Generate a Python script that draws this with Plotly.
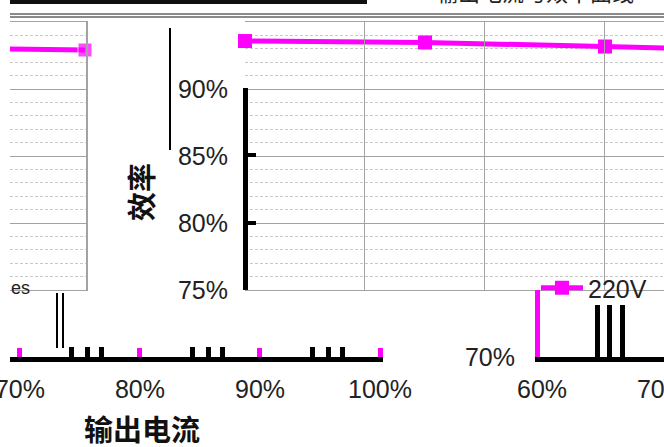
import plotly.graph_objects as go

W, H = 664, 447

# ---------------- data ----------------
main_current = [60, 75, 90, 100]
main_eff = [93.58, 93.47, 93.17, 92.95]
left_current = [30, 40]
left_eff = [92.98, 92.91]
series_name = "220V"

eff_ticks = [75, 80, 85, 90]
eff_tick_labels = ["75%", "80%", "85%", "90%"]

cur_ticks = [70, 80, 90, 100]
cur_tick_labels = ["70%", "80%", "90%", "100%"]
cur_minor_ticks = [74.3, 75.6, 76.8, 84.4, 85.7, 86.9, 94.4, 95.7, 96.9]

pair_x = [73.1, 73.6]
pair_top = [0.955, 0.955]
pair_base = [0.134, 0.134]

inset_ticks = [60, 70]
inset_tick_labels = ["60%", "70%"]
inset_low_ticks = [70]
inset_low_labels = ["70%"]
inset_bar_x = [64.6, 65.6, 66.7]
inset_bar_h = [3.9, 3.9, 3.9]


def fx(px):
    return px / W


def fy(py):
    return 1 - py / H


MAG = "#ff00ff"
GRID = "#a3a3a3"
MINOR = "#c8c8c8"
TXT = "#222222"
tickfont = dict(family="Liberation Sans, Arial", size=25, color=TXT)

fig = go.Figure()

# main series
fig.add_trace(go.Scatter(
    x=main_current, y=main_eff, name=series_name, mode="lines+markers",
    line=dict(color=MAG, width=5), marker=dict(symbol="square", size=14, color=MAG),
    cliponaxis=False, xaxis="x", yaxis="y", showlegend=True))
# left fragment of series
fig.add_trace(go.Scatter(
    x=left_current, y=left_eff, mode="lines+markers",
    line=dict(color=MAG, width=5),
    marker=dict(symbol="square", size=[0, 14], color=MAG),
    cliponaxis=False, xaxis="x2", yaxis="y2", showlegend=False))
# thin double bars in bottom strip
fig.add_trace(go.Bar(
    x=pair_x, y=[t - b for t, b in zip(pair_top, pair_base)], base=pair_base,
    width=0.17, marker=dict(color="black", line=dict(width=0)),
    xaxis="x3", yaxis="y3", showlegend=False))
# inset bars
fig.add_trace(go.Bar(
    x=inset_bar_x, y=inset_bar_h, base=70, width=0.42,
    marker=dict(color="black", line=dict(width=0)),
    xaxis="x4", yaxis="y4", showlegend=False))
# empty traces to register decorative axes
for xa, ya in [("x", "y5"), ("x", "y6"), ("x7", "y6"), ("x8", "y6"), ("x9", "y6")]:
    fig.add_trace(go.Scatter(x=[], y=[], xaxis=xa, yaxis=ya, showlegend=False,
                             hoverinfo="skip"))

common = dict(zeroline=False, automargin=False)

fig.update_layout(
    width=W, height=H,
    margin=dict(l=0, r=0, t=0, b=0, pad=0, autoexpand=False),
    paper_bgcolor="white", plot_bgcolor="rgba(0,0,0,0)",
    bargap=0,
    showlegend=True,
    legend=dict(x=fx(536), y=fy(288), xanchor="left", yanchor="middle",
                bgcolor="rgba(0,0,0,0)", font=tickfont, itemwidth=42,
                borderwidth=0, tracegroupgap=0),
    xaxis=dict(domain=[fx(245), 1], range=[60, 94.92], tick0=60, dtick=10,
               showgrid=True, gridcolor=GRID, gridwidth=1.3, showticklabels=False,
               ticks="", showline=True, linecolor=GRID, linewidth=1.3, mirror=True,
               anchor="y", **common),
    yaxis=dict(domain=[fy(290), fy(22)], range=[75, 95], tickmode="array",
               tickvals=eff_ticks, ticktext=eff_tick_labels, tickfont=tickfont,
               ticklabelstandoff=16, ticklabeloverflow="allow", ticks="",
               showline=False, showgrid=True, gridcolor=GRID, gridwidth=1.3,
               minor=dict(tickmode="linear", tick0=75, dtick=1, showgrid=True,
                          gridcolor=MINOR, gridwidth=1, griddash="3px,2px", ticks=""),
               anchor="x", **common),
    xaxis2=dict(domain=[fx(10), fx(86)], range=[30, 40.13], showgrid=False,
                showticklabels=False, ticks="", showline=True, linecolor=GRID,
                linewidth=1.3, mirror=True, anchor="y2", **common),
    yaxis2=dict(domain=[fy(290), fy(22)], range=[75, 95], tickmode="array",
                tickvals=eff_ticks, showticklabels=False, ticks="", side="right",
                showline=True, linecolor=GRID, linewidth=1.5, showgrid=True,
                gridcolor=GRID, gridwidth=1.3,
                minor=dict(tickmode="linear", tick0=75, dtick=1, showgrid=True,
                           gridcolor=MINOR, gridwidth=1, griddash="3px,2px", ticks=""),
                anchor="x2", **common),
    xaxis3=dict(domain=[fx(10), fx(383)], range=[69.17, 100.25], tickmode="array",
                tickvals=cur_ticks, ticktext=cur_tick_labels, tickfont=tickfont,
                ticks="inside", tickcolor=MAG, ticklen=9, tickwidth=5,
                minor=dict(tickvals=cur_minor_ticks, ticks="inside", ticklen=10,
                           tickwidth=5, tickcolor="black", showgrid=False),
                ticklabelstandoff=6, ticklabeloverflow="allow",
                showline=True, linecolor="black", linewidth=5,
                showgrid=False, anchor="y3", **common),
    yaxis3=dict(domain=[fy(357), fy(290)], range=[0, 1], visible=False,
                anchor="x3", **common),
    xaxis4=dict(domain=[fx(540), 1], range=[59.83, 70.17], tickmode="array",
                tickvals=inset_ticks, ticktext=inset_tick_labels, tickfont=tickfont,
                ticks="", ticklabelstandoff=6, ticklabeloverflow="allow",
                showline=True, linecolor="black",
                linewidth=5, showgrid=False, anchor="y4", **common),
    yaxis4=dict(domain=[fy(357), fy(290)], range=[70, 75], tickmode="array",
                tickvals=inset_low_ticks, ticktext=inset_low_labels, tickfont=tickfont,
                ticks="", ticklabelstandoff=15, ticklabeloverflow="allow",
                showline=True, linecolor=MAG,
                linewidth=5, showgrid=False, anchor="x4", **common),
    yaxis5=dict(domain=[fy(290), fy(88)], range=[75, 90], tickmode="array",
                tickvals=eff_ticks, showticklabels=False, ticks="inside", ticklen=8,
                tickwidth=4, tickcolor="black", showline=True, linecolor="black",
                linewidth=5, showgrid=False, anchor="free", position=fx(245), **common),
    yaxis6=dict(domain=[fy(150), fy(28)], range=[0, 1], showticklabels=False,
                ticks="", showline=True, linecolor="black", linewidth=1.5,
                showgrid=False, anchor="free", position=fx(170), **common),
    xaxis7=dict(domain=[fx(10), fx(367)], range=[0, 1], showticklabels=False,
                ticks="", showline=True, linecolor="#111111", linewidth=8,
                showgrid=False, anchor="free", position=1, **common),
    xaxis8=dict(domain=[fx(10), 1], range=[0, 1], showticklabels=False, ticks="",
                showline=True, linecolor="#8a8a8a", linewidth=1.5, showgrid=False,
                anchor="free", position=fy(13.5), **common),
    xaxis9=dict(domain=[fx(10), 1], range=[0, 1], showticklabels=False, ticks="",
                showline=True, linecolor="#8a8a8a", linewidth=1.5, showgrid=False,
                anchor="free", position=fy(17), **common),
    annotations=[
        dict(text="<b>效率</b>", x=fx(140), y=fy(192), xref="paper", yref="paper",
             xanchor="center", yanchor="middle", textangle=-90, showarrow=False,
             font=dict(family="Noto Sans CJK SC", size=29, color="#111111")),
        dict(text="<b>输出电流</b>", x=fx(142), y=fy(428), xref="paper", yref="paper",
             xanchor="center", yanchor="middle", showarrow=False,
             font=dict(family="Noto Sans CJK SC", size=29, color="#111111")),
        dict(text="输出电流与效率曲线", x=fx(535), y=fy(9), xref="paper", yref="paper",
             xanchor="center", yanchor="bottom", showarrow=False,
             font=dict(family="Noto Sans CJK SC", size=22, color="#222222")),
        dict(text="es", x=fx(20), y=fy(288), xref="paper", yref="paper",
             xanchor="center", yanchor="middle",
             showarrow=False, font=dict(family="Liberation Sans", size=18, color=TXT)),
    ],
)

fig.write_html("out.html", config={"displayModeBar": False},
               post_script="document.body.style.margin='0px';")
